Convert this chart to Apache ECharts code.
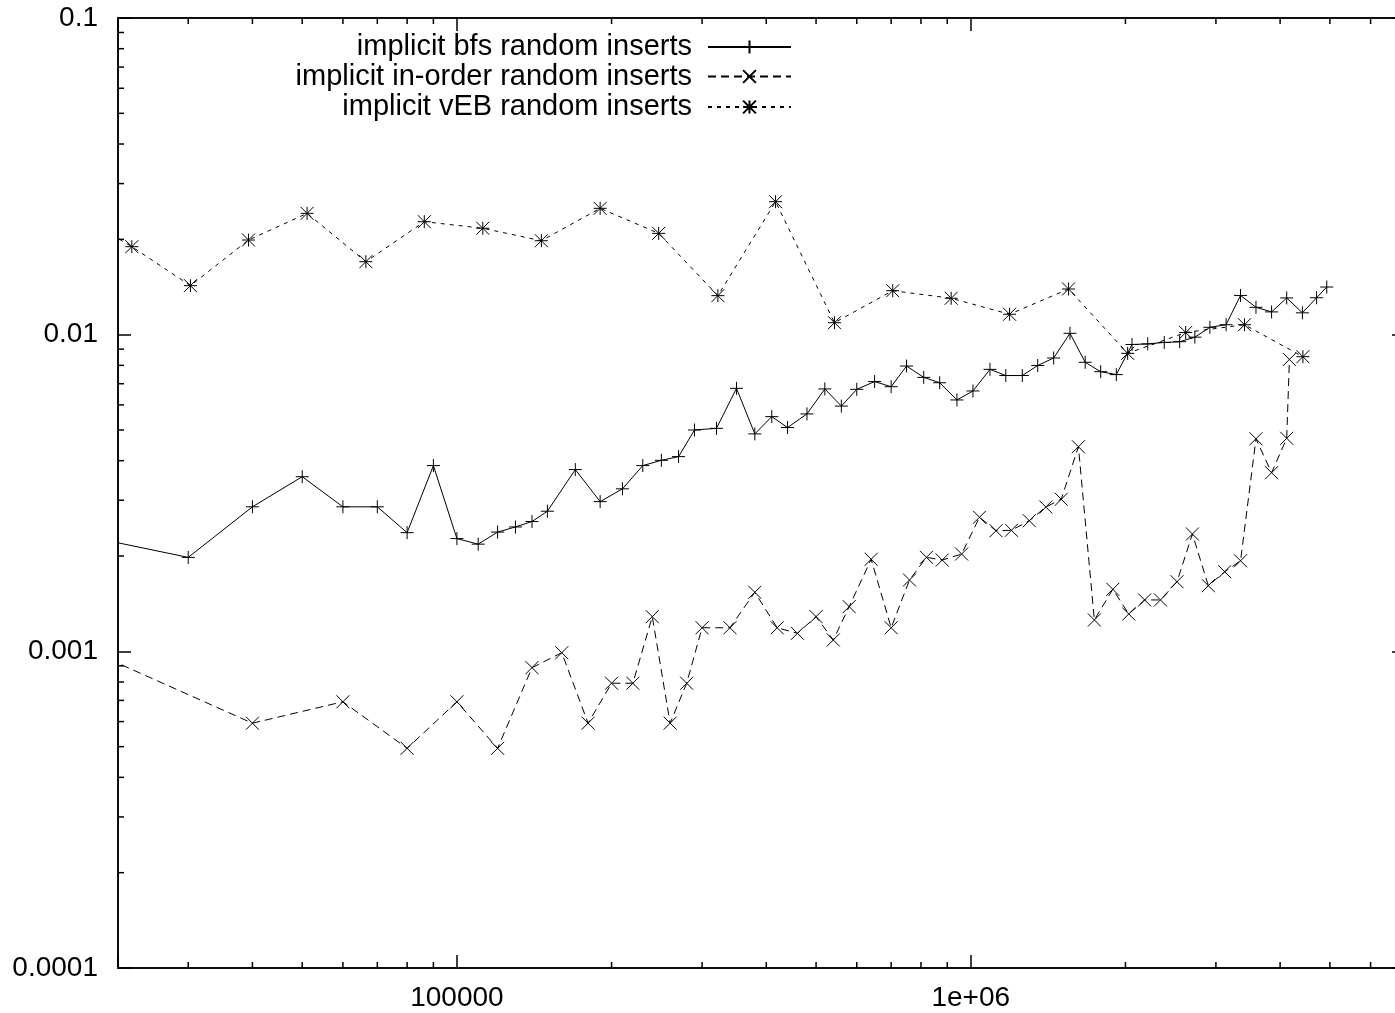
<!DOCTYPE html>
<html>
<head>
<meta charset="utf-8">
<script src="https://cdn.jsdelivr.net/npm/echarts@6/dist/echarts.min.js"></script>
<style>
html,body{margin:0;padding:0;background:#fff;}
#c{width:1395px;height:1013px;}
</style>
</head>
<body>
<div id="c"></div>
<script>
// ---- data ----
const seriesNames = ['implicit bfs random inserts', 'implicit in-order random inserts', 'implicit vEB random inserts'];

const bfsX = [20000,30000,40000,50000,60000,70000,80000,90000,100000,110000,120000,130000,140000,150000,170000,190000,210000,230000,250000,270000,290000,320000,350000,380000,410000,440000,480000,520000,560000,600000,650000,700000,750000,810000,870000,940000,1010000,1090000,1170000,1260000,1350000,1450000,1560000,1670000,1790000,1920000,2060000,2210000,2380000,2550000,2730000,2920000,3140000,3350000,3590000,3850000,4120000,4420000,4710000,4930000];
const bfsY = [0.00227,0.00198,0.00286,0.00356,0.00286,0.00286,0.00237,0.00386,0.00227,0.00218,0.00238,0.00247,0.00257,0.00277,0.00375,0.00297,0.00326,0.00386,0.00401,0.00412,0.00500,0.00506,0.00677,0.00486,0.00551,0.00509,0.00562,0.00674,0.00595,0.00672,0.00711,0.00685,0.00796,0.00733,0.00705,0.00622,0.00664,0.00777,0.00743,0.00743,0.00799,0.00844,0.0101,0.00818,0.00764,0.00748,0.00931,0.00935,0.00945,0.00950,0.00982,0.01055,0.01075,0.0133,0.0122,0.0118,0.01306,0.01172,0.01308,0.01414];

const inorderX = [20000,40000,60000,80000,100000,120000,140000,160000,180000,200000,220000,240000,260000,280000,300000,340000,380000,420000,460000,500000,540000,580000,640000,700000,760000,820000,880000,960000,1040000,1120000,1200000,1300000,1400000,1500000,1620000,1740000,1890000,2030000,2180000,2340000,2520000,2700000,2900000,3120000,3350000,3590000,3850000,4120000,4170000];
const inorderY = [0.000979,0.000593,0.000693,0.000494,0.000693,0.000494,0.000888,0.00099,0.000593,0.000793,0.000793,0.001287,0.000593,0.000793,0.001187,0.001187,0.001536,0.001187,0.00114,0.001287,0.001086,0.001384,0.001953,0.001187,0.00168,0.001981,0.001942,0.002029,0.002651,0.002404,0.002411,0.002585,0.002856,0.003021,0.004427,0.001256,0.00157,0.001312,0.001453,0.001453,0.001659,0.002347,0.001612,0.001784,0.001932,0.00469,0.003665,0.004707,0.00835];

const vebX = [17900,23300,30300,39300,51100,66500,86400,112300,146000,190000,247000,322000,417000,543000,705000,916000,1190000,1550000,2020000,2620000,3410000,4430000];
const vebY = [0.0246,0.01896,0.01428,0.0199,0.02416,0.017,0.02274,0.02168,0.0198,0.02506,0.02089,0.01328,0.0263,0.01091,0.01377,0.01303,0.0116,0.01394,0.00873,0.01016,0.01075,0.00852];

// axis ranges and tick labels
const X_MIN = 21900, X_MAX = 7000000;
const Y_MIN = 0.0001, Y_MAX = 0.1;
const xTickLabels = {'4': '10000', '5': '100000', '6': '1e+06'};
const yTickLabels = {'-1': '0.1', '-2': '0.01', '-3': '0.001', '-4': '0.0001'};
const xMinorTicks = [30000,40000,50000,60000,70000,80000,90000,200000,300000,400000,500000,600000,700000,800000,900000,2000000,3000000,4000000,5000000,6000000];
const yMinorTicks = [0.0002,0.0003,0.0004,0.0005,0.0006,0.0007,0.0008,0.0009,0.002,0.003,0.004,0.005,0.006,0.007,0.008,0.009,0.02,0.03,0.04,0.05,0.06,0.07,0.08,0.09];

// ---- chart ----
const FONT = "'Liberation Sans', Arial, Helvetica, sans-serif";
const PLUS = 'path://M5,0L5,10M0,5L10,5';
const CROSS = 'path://M0,0L10,10M10,0L0,10';
const STAR = 'path://M5,0L5,10M0,5L10,5M0,0L10,10M10,0L0,10';

function logLabel(map) {
  return function (v) {
    const l = Math.log10(v);
    const r = Math.round(l);
    if (Math.abs(l - r) > 1e-6) return '';
    return map[String(r)] || '';
  };
}

const chart = echarts.init(document.getElementById('c'), null, {renderer: 'canvas', width: 1395, height: 1013});

const axisLineStyle = {color: '#000', width: 1.5};
function mkAxis(kind, pos, min, max, labels, show) {
  return {
    type: 'log', logBase: 10, min: min, max: max, position: pos, gridIndex: 0,
    axisLine: {show: true, onZero: false, lineStyle: axisLineStyle},
    axisTick: {show: true, inside: true, length: 13, lineStyle: {color: '#000', width: 1.5}},
    axisLabel: {show: show, margin: kind === 'x' ? 16 : 20, color: '#000', fontSize: 28, fontFamily: FONT,
      formatter: logLabel(labels), showMinLabel: true, showMaxLabel: true, hideOverlap: false},
    splitLine: {show: false}, minorTick: {show: false}, minorSplitLine: {show: false}
  };
}

function lineSeries(name, xs, ys, sym, dash) {
  return {
    name: name, type: 'line', xAxisIndex: 0, yAxisIndex: 0,
    data: xs.map((x, i) => [x, ys[i]]),
    symbol: sym, symbolSize: 13, showAllSymbol: true, clip: true,
    lineStyle: {color: '#000', width: 1, type: dash},
    itemStyle: {color: '#000', borderColor: '#000', borderWidth: 1},
    emphasis: {disabled: true}, silent: true, z: 3
  };
}

function tickLine(x1, y1, x2, y2) {
  return {type: 'line', shape: {x1: x1, y1: y1, x2: x2, y2: y2}, style: {stroke: '#000', lineWidth: 1.5}};
}

const legendTops = [32.5, 62, 92.5];

const option = {
  animation: false,
  backgroundColor: '#fff',
  textStyle: {fontFamily: FONT},
  grid: {left: 118, top: 18, width: 1287, height: 950, show: true, borderColor: '#000', borderWidth: 1.5,
    backgroundColor: 'transparent', containLabel: false, outerBoundsMode: 'none'},
  xAxis: [mkAxis('x', 'bottom', X_MIN, X_MAX, xTickLabels, true), mkAxis('x', 'top', X_MIN, X_MAX, xTickLabels, false)],
  yAxis: [mkAxis('y', 'left', Y_MIN, Y_MAX, yTickLabels, true), mkAxis('y', 'right', Y_MIN, Y_MAX, yTickLabels, false)],
  legend: seriesNames.map((n, i) => ({
    data: [n], orient: 'vertical', align: 'right', right: 603, top: legendTops[i], padding: 0,
    itemWidth: 83, itemHeight: 16, itemGap: 0, selectedMode: false,
    textStyle: {color: '#000', fontSize: 29, fontFamily: FONT, padding: [0, 11, 0, 0]}
  })),
  series: [
    lineSeries(seriesNames[0], bfsX, bfsY, PLUS, 'solid'),
    lineSeries(seriesNames[1], inorderX, inorderY, CROSS, [8, 5]),
    lineSeries(seriesNames[2], vebX, vebY, STAR, [4, 5]),
    {
      type: 'custom', coordinateSystem: 'cartesian2d', xAxisIndex: 0, yAxisIndex: 0, silent: true, clip: false,
      data: xMinorTicks.map(v => [v, Y_MIN]),
      renderItem: function (params, api) {
        const v = api.value(0);
        const b = api.coord([v, Y_MIN]);
        const t = api.coord([v, Y_MAX]);
        return {type: 'group', children: [tickLine(b[0], b[1], b[0], b[1] - 6), tickLine(t[0], t[1], t[0], t[1] + 6)]};
      }
    },
    {
      type: 'custom', coordinateSystem: 'cartesian2d', xAxisIndex: 0, yAxisIndex: 0, silent: true, clip: false,
      data: yMinorTicks.map(v => [X_MIN, v]),
      renderItem: function (params, api) {
        const v = api.value(1);
        const l = api.coord([X_MIN, v]);
        const r = api.coord([X_MAX, v]);
        return {type: 'group', children: [tickLine(l[0], l[1], l[0] + 6, l[1]), tickLine(r[0], r[1], r[0] - 6, r[1])]};
      }
    }
  ]
};
chart.setOption(option);
</script>
</body>
</html>
